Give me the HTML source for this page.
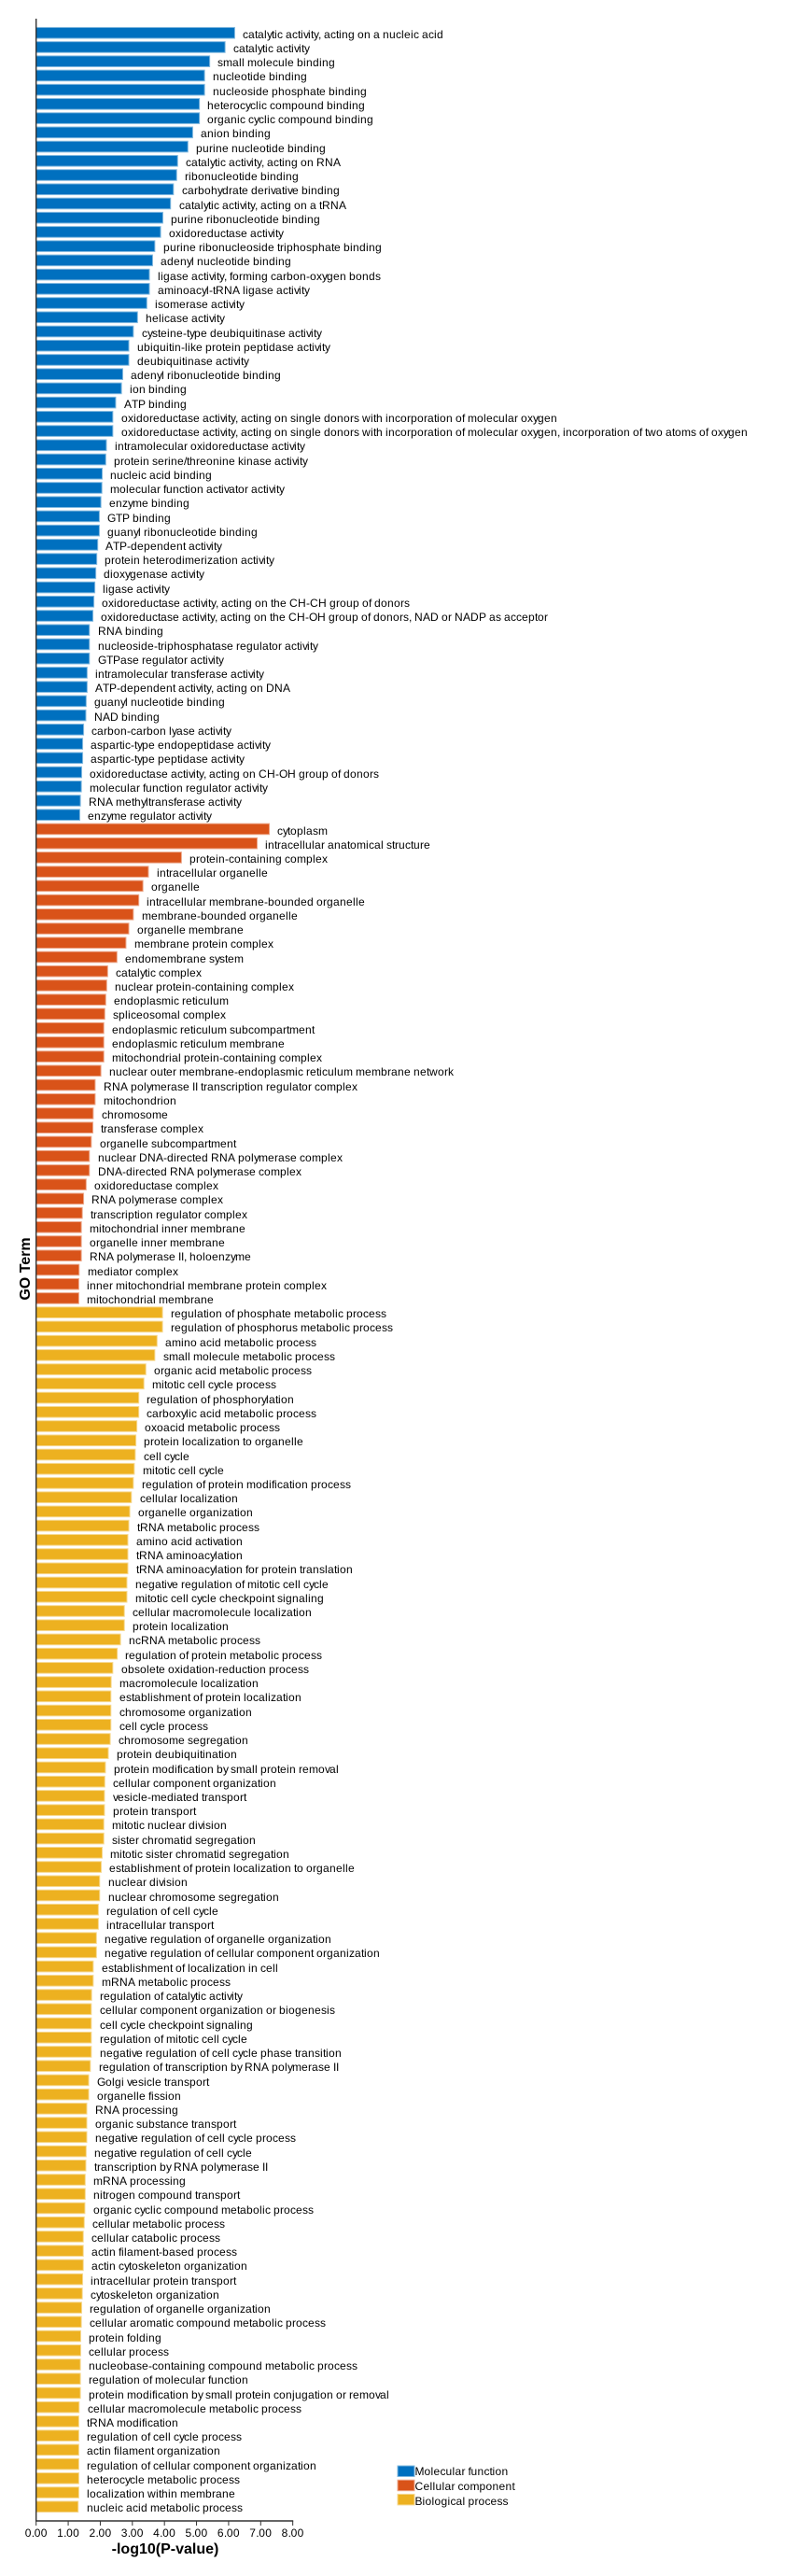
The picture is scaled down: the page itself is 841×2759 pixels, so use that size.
<!DOCTYPE html>
<html lang="en">
<head>
<meta charset="utf-8">
<title>GO Term enrichment bar chart</title>
<style>
html,body{margin:0;padding:0;background:#fff;}
svg{display:block;}
text{font-family:"Liberation Sans",Arial,sans-serif;fill:#000;}
</style>
</head>
<body>
<svg id="chart" xmlns="http://www.w3.org/2000/svg" width="841" height="2759" viewBox="0 0 841 2759">
<rect x="0" y="0" width="841" height="2759" fill="#ffffff"/>
<g id="bars"></g>
<g id="labels"></g>
<line x1="38.7" y1="20" x2="38.7" y2="2700.5" stroke="#333" stroke-width="1.4"/>
<line x1="38" y1="2700" x2="314.2" y2="2700" stroke="#333" stroke-width="1.4"/>
<g id="ticks"></g>
<text x="177" y="2735" font-size="16" font-weight="bold" text-anchor="middle">-log10(P-value)</text>
<text transform="translate(32,1359) rotate(-90)" font-size="16" font-weight="bold" text-anchor="middle">GO Term</text>
<g id="legend"></g>
</svg>
<script>
const mfTerms = ["catalytic activity, acting on a nucleic acid","catalytic activity","small molecule binding","nucleotide binding","nucleoside phosphate binding","heterocyclic compound binding","organic cyclic compound binding","anion binding","purine nucleotide binding","catalytic activity, acting on RNA","ribonucleotide binding","carbohydrate derivative binding","catalytic activity, acting on a tRNA","purine ribonucleotide binding","oxidoreductase activity","purine ribonucleoside triphosphate binding","adenyl nucleotide binding","ligase activity, forming carbon-oxygen bonds","aminoacyl-tRNA ligase activity","isomerase activity","helicase activity","cysteine-type deubiquitinase activity","ubiquitin-like protein peptidase activity","deubiquitinase activity","adenyl ribonucleotide binding","ion binding","ATP binding","oxidoreductase activity, acting on single donors with incorporation of molecular oxygen","oxidoreductase activity, acting on single donors with incorporation of molecular oxygen, incorporation of two atoms of oxygen","intramolecular oxidoreductase activity","protein serine/threonine kinase activity","nucleic acid binding","molecular function activator activity","enzyme binding","GTP binding","guanyl ribonucleotide binding","ATP-dependent activity","protein heterodimerization activity","dioxygenase activity","ligase activity","oxidoreductase activity, acting on the CH-CH group of donors","oxidoreductase activity, acting on the CH-OH group of donors, NAD or NADP as acceptor","RNA binding","nucleoside-triphosphatase regulator activity","GTPase regulator activity","intramolecular transferase activity","ATP-dependent activity, acting on DNA","guanyl nucleotide binding","NAD binding","carbon-carbon lyase activity","aspartic-type endopeptidase activity","aspartic-type peptidase activity","oxidoreductase activity, acting on CH-OH group of donors","molecular function regulator activity","RNA methyltransferase activity","enzyme regulator activity"];
const mfValues = [6.19,5.89,5.41,5.25,5.25,5.09,5.09,4.88,4.73,4.41,4.38,4.28,4.19,3.95,3.88,3.70,3.63,3.53,3.53,3.45,3.16,3.03,2.89,2.89,2.70,2.66,2.48,2.39,2.39,2.19,2.17,2.06,2.05,2.02,1.97,1.97,1.92,1.89,1.86,1.83,1.80,1.77,1.66,1.66,1.66,1.59,1.59,1.56,1.55,1.48,1.45,1.45,1.42,1.41,1.38,1.36];
const ccTerms = ["cytoplasm","intracellular anatomical structure","protein-containing complex","intracellular organelle","organelle","intracellular membrane-bounded organelle","membrane-bounded organelle","organelle membrane","membrane protein complex","endomembrane system","catalytic complex","nuclear protein-containing complex","endoplasmic reticulum","spliceosomal complex","endoplasmic reticulum subcompartment","endoplasmic reticulum membrane","mitochondrial protein-containing complex","nuclear outer membrane-endoplasmic reticulum membrane network","RNA polymerase II transcription regulator complex","mitochondrion","chromosome","transferase complex","organelle subcompartment","nuclear DNA-directed RNA polymerase complex","DNA-directed RNA polymerase complex","oxidoreductase complex","RNA polymerase complex","transcription regulator complex","mitochondrial inner membrane","organelle inner membrane","RNA polymerase II, holoenzyme","mediator complex","inner mitochondrial membrane protein complex","mitochondrial membrane"];
const ccValues = [7.27,6.89,4.53,3.50,3.33,3.20,3.03,2.89,2.80,2.52,2.23,2.20,2.17,2.14,2.11,2.11,2.11,2.02,1.84,1.84,1.78,1.77,1.72,1.66,1.66,1.56,1.48,1.44,1.41,1.41,1.41,1.34,1.33,1.33];
const bpTerms = ["regulation of phosphate metabolic process","regulation of phosphorus metabolic process","amino acid metabolic process","small molecule metabolic process","organic acid metabolic process","mitotic cell cycle process","regulation of phosphorylation","carboxylic acid metabolic process","oxoacid metabolic process","protein localization to organelle","cell cycle","mitotic cell cycle","regulation of protein modification process","cellular localization","organelle organization","tRNA metabolic process","amino acid activation","tRNA aminoacylation","tRNA aminoacylation for protein translation","negative regulation of mitotic cell cycle","mitotic cell cycle checkpoint signaling","cellular macromolecule localization","protein localization","ncRNA metabolic process","regulation of protein metabolic process","obsolete oxidation-reduction process","macromolecule localization","establishment of protein localization","chromosome organization","cell cycle process","chromosome segregation","protein deubiquitination","protein modification by small protein removal","cellular component organization","vesicle-mediated transport","protein transport","mitotic nuclear division","sister chromatid segregation","mitotic sister chromatid segregation","establishment of protein localization to organelle","nuclear division","nuclear chromosome segregation","regulation of cell cycle","intracellular transport","negative regulation of organelle organization","negative regulation of cellular component organization","establishment of localization in cell","mRNA metabolic process","regulation of catalytic activity","cellular component organization or biogenesis","cell cycle checkpoint signaling","regulation of mitotic cell cycle","negative regulation of cell cycle phase transition","regulation of transcription by RNA polymerase II","Golgi vesicle transport","organelle fission","RNA processing","organic substance transport","negative regulation of cell cycle process","negative regulation of cell cycle","transcription by RNA polymerase II","mRNA processing","nitrogen compound transport","organic cyclic compound metabolic process","cellular metabolic process","cellular catabolic process","actin filament-based process","actin cytoskeleton organization","intracellular protein transport","cytoskeleton organization","regulation of organelle organization","cellular aromatic compound metabolic process","protein folding","cellular process","nucleobase-containing compound metabolic process","regulation of molecular function","protein modification by small protein conjugation or removal","cellular macromolecule metabolic process","tRNA modification","regulation of cell cycle process","actin filament organization","regulation of cellular component organization","heterocycle metabolic process","localization within membrane","nucleic acid metabolic process"];
const bpValues = [3.94,3.94,3.77,3.70,3.42,3.36,3.20,3.20,3.14,3.11,3.09,3.06,3.03,2.97,2.92,2.89,2.86,2.86,2.86,2.83,2.83,2.75,2.75,2.63,2.53,2.39,2.34,2.33,2.33,2.33,2.31,2.25,2.16,2.14,2.13,2.13,2.11,2.11,2.06,2.03,1.98,1.98,1.94,1.94,1.88,1.88,1.78,1.78,1.73,1.72,1.72,1.72,1.72,1.69,1.64,1.64,1.58,1.58,1.58,1.56,1.55,1.53,1.53,1.52,1.50,1.47,1.47,1.47,1.45,1.44,1.42,1.41,1.39,1.39,1.38,1.38,1.38,1.34,1.33,1.33,1.33,1.33,1.33,1.33,1.31];
const xTickValues = [0,1,2,3,4,5,6,7,8];
const xTickLabels = ["0.00","1.00","2.00","3.00","4.00","5.00","6.00","7.00","8.00"];
const legendLabels = ["Molecular function","Cellular component","Biological process"];

const SVG_NS = "http://www.w3.org/2000/svg";
const groupColors = ["#0070bf","#d95319","#edb120"];
const groupStrokes = ["#80b8df","#eca98c","#f6d88f"];
const X0 = 38.7, PX_PER_UNIT = 34.37, Y_TOP = 20, Y_BOTTOM = 2700;
const totalBars = mfValues.length + ccValues.length + bpValues.length;
const BAND = (Y_BOTTOM - Y_TOP) / (totalBars + 1);
/* whole-pixel glyph advances: the reference text is hinted to integer widths at 12px */
const ADV = {a:7,b:7,c:6,d:7,e:7,f:3,g:7,h:7,i:3,j:3,k:6,l:3,m:10,n:7,o:7,p:7,q:7,r:4,s:6,t:3,u:7,v:5,w:9,x:6,y:5,z:6,
  A:8,B:8,C:9,D:9,E:8,F:7,G:9,H:9,I:3,J:6,K:8,L:7,M:10,N:9,O:9,P:8,Q:9,R:9,S:8,T:7,U:9,V:8,W:11,X:8,Y:7,Z:7,
  " ":3,",":3,".":3,"-":4,"/":3};
function advance(ch) { return ADV[ch] !== undefined ? ADV[ch] : 7; }
function glyphXs(str, startX) {
  const out = [];
  let x = startX;
  for (const ch of str) { out.push(x); x += advance(ch); }
  return out.join(" ");
}
function textWidth(str) {
  let w = 0;
  for (const ch of str) w += advance(ch);
  return w;
}
function xScale(v) { return X0 + v * PX_PER_UNIT; }
function yScale(i) { return Y_TOP + (i + 1) * BAND; }
function make(tag, attrs, parent, txt) {
  const el = document.createElementNS(SVG_NS, tag);
  for (const k in attrs) el.setAttribute(k, attrs[k]);
  if (txt !== undefined) el.textContent = txt;
  parent.appendChild(el);
  return el;
}
const barsG = document.getElementById("bars");
const labelsG = document.getElementById("labels");
const ticksG = document.getElementById("ticks");
const legendG = document.getElementById("legend");
const groups = [[mfTerms, mfValues], [ccTerms, ccValues], [bpTerms, bpValues]];
let idx = 0;
groups.forEach(function (g, gi) {
  g[1].forEach(function (v, i) {
    const cy = yScale(idx);
    const w = xScale(v) - X0;
    const r = make("rect", {x: X0, y: cy - 5.8, width: w, height: 11.6, fill: groupColors[gi], stroke: groupStrokes[gi], "stroke-width": 1}, barsG);
    
    
    const t = make("text", {x: glyphXs(g[0][i], Math.round(xScale(v) + 8.8)), y: Math.floor(cy + 0.07) + 6, "font-size": 12}, labelsG, g[0][i]);
    
    
    idx++;
  });
});
xTickValues.forEach(function (v, i) {
  const x = xScale(v);
  const l = make("line", {x1: x, y1: 2700, x2: x, y2: 2705, stroke: "#333", "stroke-width": 1}, ticksG);
  
  
  const t = make("text", {x: glyphXs(xTickLabels[i], x - textWidth(xTickLabels[i]) / 2), y: 2717, "font-size": 12}, ticksG, xTickLabels[i]);
  
  
});
legendLabels.forEach(function (lab, i) {
  const s = make("rect", {x: 426, y: 2641 + i * 15.2, width: 18, height: 11.5, fill: groupColors[i], stroke: groupStrokes[i], "stroke-width": 1}, legendG);
  
  
  const t = make("text", {x: glyphXs(lab, 444.5), y: 2651 + i * 16, "font-size": 12}, legendG, lab);
  
  
});
</script>
</body>
</html>
